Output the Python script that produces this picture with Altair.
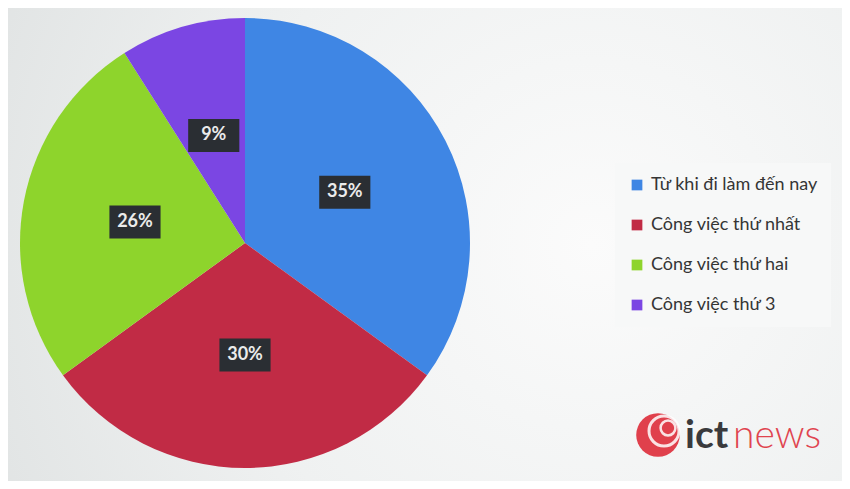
import altair as alt
import pandas as pd

categories = ["Từ khi đi làm đến nay", "Công việc thứ nhất", "Công việc thứ hai", "Công việc thứ 3"]
values = [35, 30, 26, 9]
labels = ["35%", "30%", "26%", "9%"]
colors = ["#3f86e4", "#c12b45", "#8ed42c", "#7b46e3"]
logo_parts = ["ict", "news"]

df = pd.DataFrame({
    "category": categories,
    "value": values,
    "label": labels,
    "order": list(range(len(categories))),
})

R = 225      # pie radius (px)
LR = 112     # label radius (px)

one = pd.DataFrame({"a": [0]})

bg = alt.Chart(one).mark_rect(
    fill=alt.RadialGradient(
        gradient="radial",
        stops=[
            alt.GradientStop(color="#fbfbfb", offset=0),
            alt.GradientStop(color="#eff1f1", offset=0.55),
            alt.GradientStop(color="#e0e3e3", offset=1),
        ],
        x1=0.7, y1=0.5, x2=0.7, y2=0.5, r1=0, r2=0.8,
    )
).encode(x=alt.value(-12), x2=alt.value(822), y=alt.value(-10), y2=alt.value(463))

color = alt.Color(
    "category:N",
    scale=alt.Scale(domain=categories, range=colors),
    sort=categories,
    legend=alt.Legend(
        title=None,
        orient="none",
        legendX=595,
        legendY=145,
        symbolType="square",
        symbolSize=115,
        symbolStrokeWidth=0,
        labelFontSize=18,
        labelFont="Lato",
        labelColor="#353535",
        labelOffset=5,
        rowPadding=22,
        padding=13,
        fillColor="#f7f8f8",
        labelLimit=300,
    ),
)

pie = alt.Chart(df).mark_arc(outerRadius=R, strokeWidth=0).encode(
    theta=alt.Theta("value:Q", stack=True),
    color=color,
    order=alt.Order("order:Q"),
)

pos = (
    alt.Chart(df)
    .transform_window(cum="sum(value)", sort=[alt.SortField("order")], frame=[None, 0])
    .transform_joinaggregate(total="sum(value)")
    .transform_calculate(
        mid="(datum.cum - datum.value / 2) / datum.total * 2 * PI",
        px=f"{LR} * sin(datum.mid)",
        py=f"{LR} * cos(datum.mid)",
    )
)

xs = alt.X("px:Q", scale=alt.Scale(domain=[-R, R]), axis=None)
ys = alt.Y("py:Q", scale=alt.Scale(domain=[-R, R]), axis=None)

boxes = pos.mark_point(
    shape="M-1.55,-1L1.55,-1L1.55,1L-1.55,1Z",
    size=1089,
    filled=True,
    color="#2a2e33",
    opacity=1,
    strokeWidth=0,
).encode(x=xs, y=ys)

texts = pos.mark_text(
    font="Lato", fontSize=18, fontWeight="bold", color="#ebebeb", baseline="middle", align="center"
).encode(x=xs, y=ys, text="label:N")

globe = alt.Chart(one).mark_point(
    shape="circle", size=1900, filled=True, color="#e0404c", opacity=1, strokeWidth=0
).encode(x=alt.value(638), y=alt.value(417))

globe_ring1 = alt.Chart(one).mark_point(
    shape="circle", size=900, filled=False, color="#ffffff", opacity=0.85, strokeWidth=3
).encode(x=alt.value(644), y=alt.value(413))

globe_ring2 = alt.Chart(one).mark_point(
    shape="circle", size=220, filled=False, color="#ffffff", opacity=0.85, strokeWidth=2.5
).encode(x=alt.value(648), y=alt.value(410))

ict = alt.Chart(pd.DataFrame({"t": [logo_parts[0]]})).mark_text(
    font="Lato", fontSize=39, fontWeight="bold", color="#3a3a3c", align="left", baseline="alphabetic"
).encode(x=alt.value(665), y=alt.value(430), text="t:N")

news = alt.Chart(pd.DataFrame({"t": [logo_parts[1]]})).mark_text(
    font="Lato", fontSize=39, fontWeight=300, color="#e0444f", align="left", baseline="alphabetic"
).encode(x=alt.value(713), y=alt.value(430), text="t:N")

chart = (
    alt.layer(bg, pie, boxes, texts, globe, globe_ring1, globe_ring2, ict, news)
    .properties(
        width=2 * R,
        height=2 * R,
        autosize=alt.AutoSizeParams(type="none"),
        padding={"left": 12, "top": 10, "right": 372, "bottom": 13},
        background="#e4e7e7",
    )
    .configure_view(stroke=None)
)

chart.save("out.html", embed_options={"renderer": "svg", "actions": False})
